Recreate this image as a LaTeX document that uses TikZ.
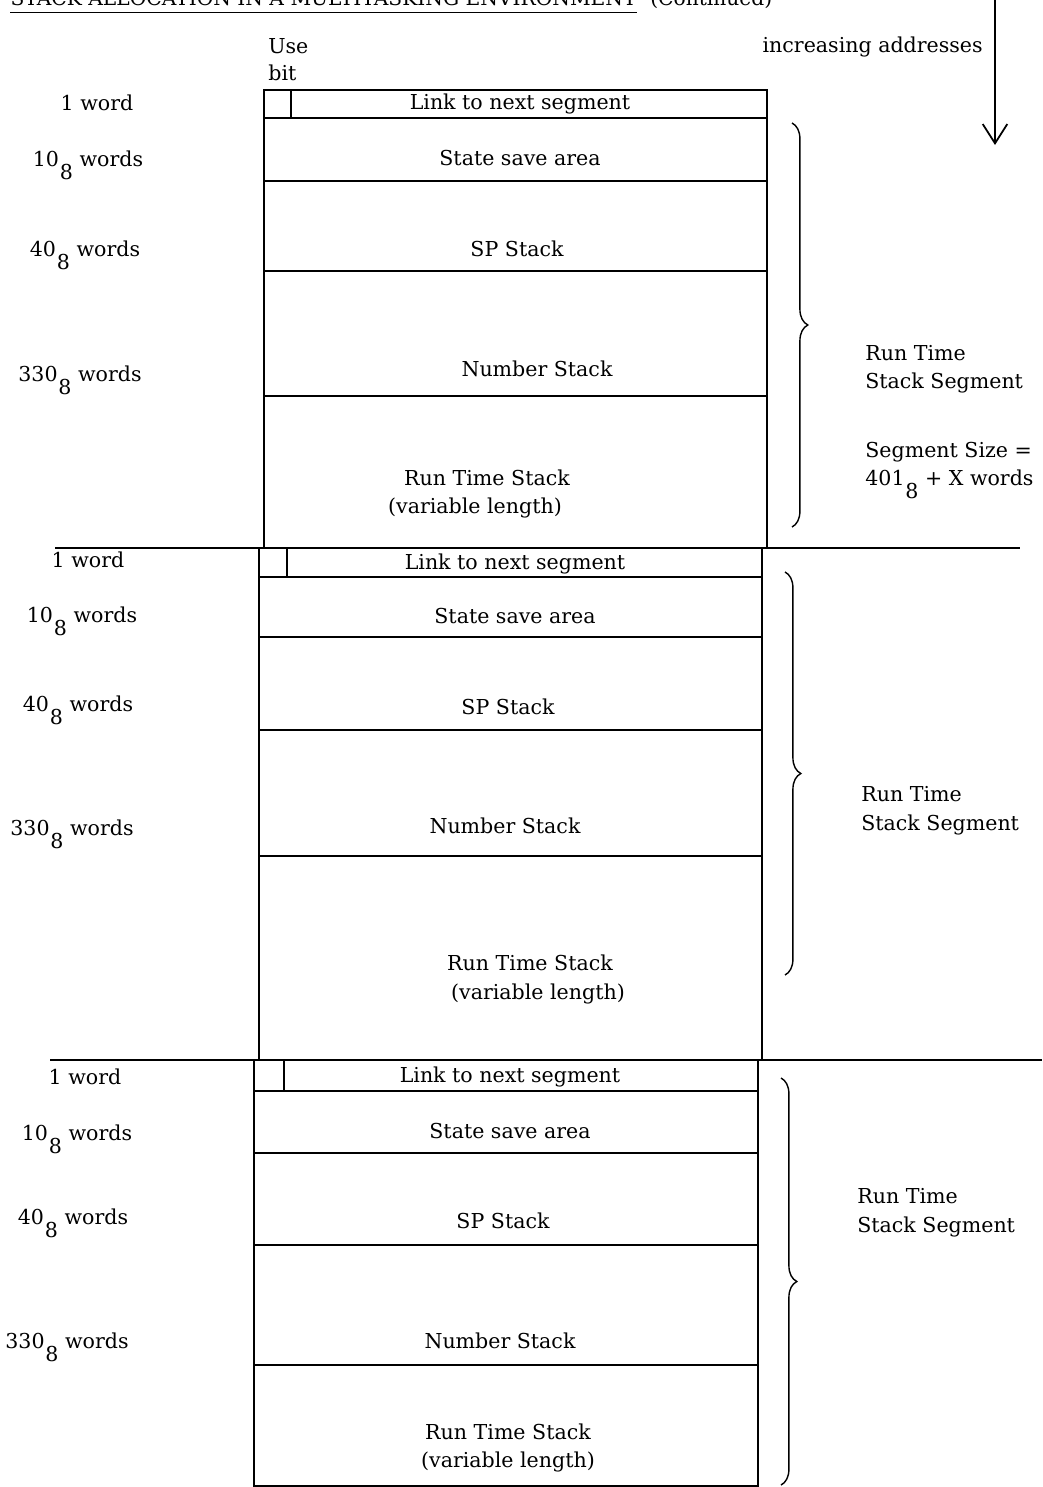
\documentclass[tikz,border=0pt]{standalone}
\usepackage{fontspec}
\setmainfont{DejaVu Serif}
\usetikzlibrary{arrows.meta, decorations.pathreplacing, positioning}
\newcommand{\octal}[1]{#1\kern0.5pt\raisebox{-1.25ex}{8}}

\begin{document}
\begin{tikzpicture}[x=0.02cm, y=-0.02cm, font=\fontsize{11.7}{14}\selectfont,
    lbl/.style={inner sep=0pt, anchor=base},
    lblw/.style={inner sep=0pt, anchor=base west},
    rule/.style={line width=1pt},
    brc/.style={decorate, decoration={brace, amplitude=9pt}, line width=0.8pt}]
    \useasboundingbox (0,0) rectangle (1042,1487);

    % title, cut off by the top edge
    \node[inner sep=0pt, anchor=base east, font=\fontsize{11.5}{14}\selectfont] (ttl) at (637,6) {STACK ALLOCATION IN A MULTITASKING ENVIRONMENT};
    \node[lblw, font=\fontsize{11.5}{14}\selectfont] (cont) at (650,6) {(Continued)};
    \draw[line width=0.9pt] ([yshift=-3.8pt]ttl.base west) -- ([yshift=-3.8pt]ttl.base east);

    \coordinate (addrtop) at (995,0);
    \coordinate (addrend) at (995,145);
    \draw[line width=1pt, -{Straight Barb[length=11pt,width=14pt]}] (addrtop) -- (addrend);
    \node[inner sep=0pt, anchor=base east] (incr) at (983,53) {increasing addresses};

    \node[lblw] (use) at (268,54) {Use};
    \node[lblw] (bit) at (268,81) {bit};

    % segment 1
    \draw[rule] (264,90) rectangle (767,548);
    \draw[rule] (264,118) -- (767,118);
    \draw[rule] (264,181) -- (767,181);
    \draw[rule] (264,271) -- (767,271);
    \draw[rule] (264,396) -- (767,396);
    \draw[rule] (291,90) -- (291,118);
    \node[lbl] (link1) at (520,110) {Link to next segment};
    \node[lbl] (state1) at (520,165) {State save area};
    \node[lbl] (sp1) at (517,256) {SP Stack};
    \node[lbl] (num1) at (537,376) {Number Stack};
    \node[lbl] (rts1) at (487,485) {Run Time Stack};
    \node[lbl] (var1) at (475,513) {(variable length)};
    \node[lbl] (wa1) at (97,111) {1 word};
    \node[lbl] (wb1) at (88,166) {\octal{10} words};
    \node[lbl] (wc1) at (85,256) {\octal{40} words};
    \node[lbl] (wd1) at (80,381) {\octal{330} words};
    \draw[brc] (792,123) -- (792,527);
    \node[lblw] (seg1a) at (865,360) {Run Time};
    \node[lblw] (seg1b) at (865,388) {Stack Segment};
    \node[lblw] (size1a) at (865,457) {Segment Size =};
    \node[lblw] (size1b) at (865,485) {\octal{401} + X words};

    \draw[rule] (55,548) -- (1020,548);

    % segment 2
    \draw[rule] (259,548) rectangle (762,1060);
    \draw[rule] (259,577) -- (762,577);
    \draw[rule] (259,637) -- (762,637);
    \draw[rule] (259,730) -- (762,730);
    \draw[rule] (259,856) -- (762,856);
    \draw[rule] (287,548) -- (287,577);
    \node[lbl] (link2) at (515,569) {Link to next segment};
    \node[lbl] (state2) at (515,623) {State save area};
    \node[lbl] (sp2) at (508,714) {SP Stack};
    \node[lbl] (num2) at (505,833) {Number Stack};
    \node[lbl] (rts2) at (530,970) {Run Time Stack};
    \node[lbl] (var2) at (538,999) {(variable length)};
    \node[lbl] (wa2) at (88,567) {1 word};
    \node[lbl] (wb2) at (82,622) {\octal{10} words};
    \node[lbl] (wc2) at (78,711) {\octal{40} words};
    \node[lbl] (wd2) at (72,835) {\octal{330} words};
    \draw[brc] (785,572) -- (785,975);
    \node[lblw] (seg2a) at (861,801) {Run Time};
    \node[lblw] (seg2b) at (861,830) {Stack Segment};

    \draw[rule] (50,1060) -- (1042,1060);

    % segment 3
    \draw[rule] (254,1060) rectangle (758,1486);
    \draw[rule] (254,1091) -- (758,1091);
    \draw[rule] (254,1153) -- (758,1153);
    \draw[rule] (254,1245) -- (758,1245);
    \draw[rule] (254,1365) -- (758,1365);
    \draw[rule] (284,1060) -- (284,1091);
    \node[lbl] (link3) at (510,1082) {Link to next segment};
    \node[lbl] (state3) at (510,1138) {State save area};
    \node[lbl] (sp3) at (503,1228) {SP Stack};
    \node[lbl] (num3) at (500,1348) {Number Stack};
    \node[lbl] (rts3) at (508,1439) {Run Time Stack};
    \node[lbl] (var3) at (508,1467) {(variable length)};
    \node[lbl] (wa3) at (85,1084) {1 word};
    \node[lbl] (wb3) at (77,1140) {\octal{10} words};
    \node[lbl] (wc3) at (73,1224) {\octal{40} words};
    \node[lbl] (wd3) at (67,1348) {\octal{330} words};
    \draw[brc] (781,1078) -- (781,1485);
    \node[lblw] (seg3a) at (857,1203) {Run Time};
    \node[lblw] (seg3b) at (857,1232) {Stack Segment};
\end{tikzpicture}
\end{document}
